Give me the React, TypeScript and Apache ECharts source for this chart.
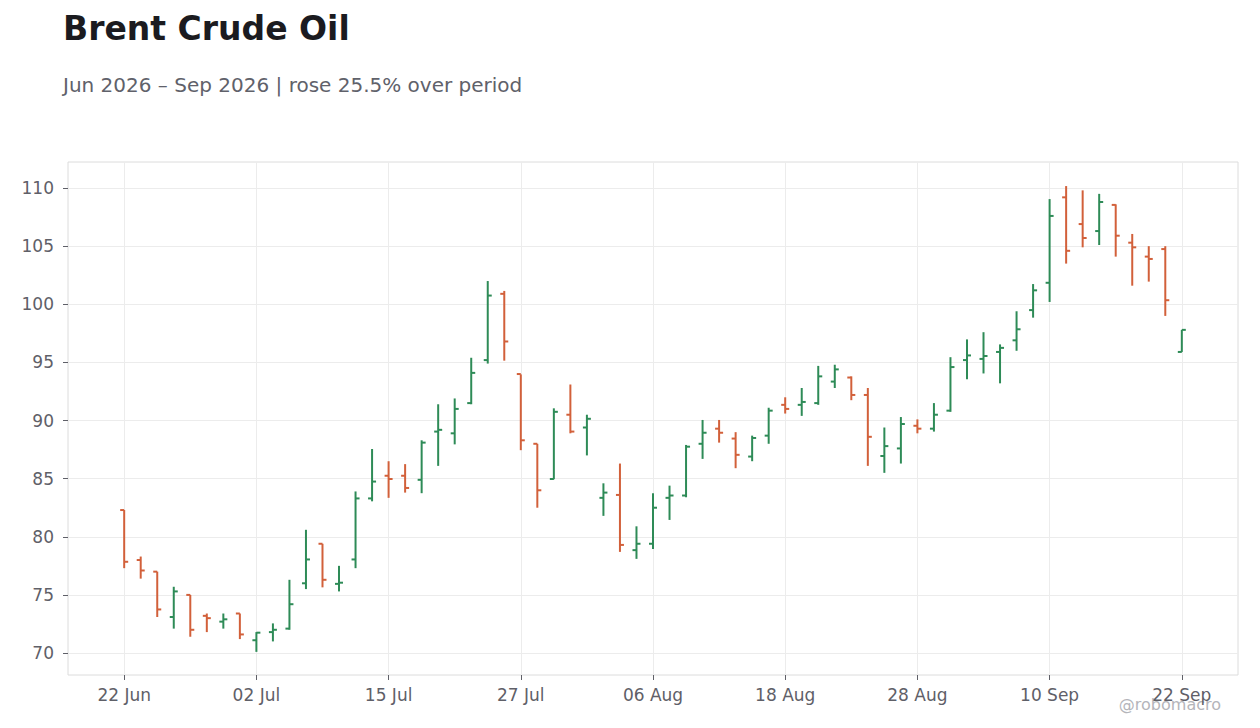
import { useEffect, useRef } from 'react';
import * as echarts from 'echarts';

// OHLC, one row per US trading day from 22 Jun 2026 to 22 Sep 2026
const opens = [
  82.3, 78.0, 77.0, 73.1, 75.0, 73.2, 72.7, 73.4, 71.1, 71.8,
  72.1, 76.0, 79.4, 75.95, 78.05, 83.3, 85.25, 85.25, 84.9, 89.05,
  88.9, 91.5, 95.2, 100.9, 94.0, 88.0, 84.97, 90.5, 89.4, 83.35,
  83.6, 78.85, 79.4, 83.35, 83.55, 88.0, 89.3, 88.45, 86.9, 88.7,
  91.35, 91.35, 91.5, 93.35, 93.7, 92.2, 86.95, 87.6, 89.55, 89.3,
  90.85, 95.2, 95.3, 95.9, 96.9, 99.5, 101.85, 109.2, 106.9, 106.3,
  108.55, 105.3, 104.1, 104.75, 95.9,
];
const highs = [
  82.3, 78.3, 77.0, 75.7, 75.0, 73.4, 73.4, 73.4, 71.8, 72.55,
  76.3, 80.6, 79.4, 77.5, 83.9, 87.55, 86.5, 86.25, 88.3, 91.4,
  91.9, 95.4, 102.0, 101.15, 93.97, 88.0, 91.05, 93.1, 90.5, 84.6,
  86.3, 80.9, 83.75, 84.4, 87.9, 90.05, 90.05, 89.0, 88.7, 91.1,
  92.0, 92.8, 94.7, 94.8, 93.8, 92.8, 89.4, 90.3, 90.1, 91.5,
  95.45, 96.98, 97.6, 96.55, 99.4, 101.74, 109.05, 110.17, 109.8, 109.5,
  108.6, 106.05, 105.0, 105.0, 97.8,
];
const lows = [
  77.3, 76.4, 73.1, 72.1, 71.4, 71.8, 72.1, 71.2, 70.1, 71.0,
  72.0, 75.5, 75.65, 75.3, 77.3, 83.05, 83.35, 83.8, 83.75, 86.1,
  87.95, 91.4, 94.9, 95.15, 87.45, 82.5, 84.95, 88.9, 87.0, 81.8,
  78.7, 78.1, 78.95, 81.45, 83.4, 86.7, 88.1, 85.9, 86.5, 88.0,
  90.6, 90.4, 91.35, 92.8, 91.75, 86.1, 85.5, 86.3, 88.9, 89.05,
  90.75, 93.55, 94.05, 93.2, 96.0, 98.85, 100.2, 103.5, 104.9, 105.1,
  104.1, 101.6, 101.95, 99.0, 95.9,
];
const closes = [
  77.85, 77.1, 73.75, 75.3, 72.0, 73.0, 72.9, 71.6, 71.75, 72.0,
  74.2, 78.05, 76.3, 76.05, 83.3, 84.75, 84.97, 84.2, 88.1, 89.2,
  91.0, 94.1, 100.75, 96.8, 88.3, 84.0, 90.75, 89.05, 90.15, 83.8,
  79.3, 79.4, 82.5, 83.55, 87.75, 88.95, 88.95, 87.05, 88.5, 90.85,
  91.0, 91.6, 93.8, 94.4, 92.2, 88.6, 87.8, 89.7, 89.3, 90.5,
  94.6, 95.6, 95.55, 96.25, 97.85, 101.2, 107.6, 104.6, 105.7, 108.8,
  105.9, 104.9, 103.9, 100.35, 97.8,
];

const tickIndex = [0, 8, 16, 24, 32, 40, 48, 56, 64];
const tickLabels = ['22 Jun', '02 Jul', '15 Jul', '27 Jul', '06 Aug', '18 Aug', '28 Aug', '10 Sep', '22 Sep'];
const yTicks = [70, 75, 80, 85, 90, 95, 100, 105, 110];

const UP = '#2e8b57';
const DOWN = '#d2603a';
const FONT = 'DejaVu Sans';
const LABEL = '#5f6068';

export default function App() {
  const chartRef = useRef<HTMLDivElement>(null);

  useEffect(() => {
    document.body.style.margin = '0';
    if (!chartRef.current) return;
    const chart = echarts.init(chartRef.current, null, { renderer: 'svg' });

    const rows = opens.map((o, i) => [i, o, highs[i], lows[i], closes[i]]);

    const option: any = {
      animation: false,
      backgroundColor: '#ffffff',
      textStyle: { fontFamily: FONT },
      title: [
        {
          text: 'Brent Crude Oil',
          left: 58,
          top: 7,
          textStyle: { fontFamily: FONT, fontSize: 33, fontWeight: 'bold', color: '#1b1b20' },
        },
        {
          text: 'Jun 2026 – Sep 2026 | rose 25.5% over period',
          left: 58,
          top: 70,
          textStyle: { fontFamily: FONT, fontSize: 20, fontWeight: 'normal', color: '#60616a' },
        },
      ],
      graphic: [
        {
          type: 'text',
          right: 39,
          top: 696,
          style: { text: '@robomacro', fill: '#b4b5ba', font: `16px "${FONT}"` },
        },
      ],
      grid: { left: 68, right: 22, top: 162, bottom: 53, show: true, borderColor: '#dcdcdc', borderWidth: 1 },
      xAxis: {
        type: 'value',
        min: -3.4,
        max: 67.4,
        axisLine: { show: false, onZero: false },
        axisTick: { show: true, customValues: tickIndex, length: 5, lineStyle: { color: LABEL } },
        axisLabel: {
          customValues: tickIndex,
          formatter: (v: number) => tickLabels[tickIndex.indexOf(Math.round(v))] ?? '',
          color: LABEL,
          fontSize: 17,
          fontFamily: FONT,
          margin: 11,
        },
        splitLine: { show: true, lineStyle: { color: '#ececec', width: 1 } },
      },
      yAxis: {
        type: 'value',
        min: 68.11,
        max: 112.24,
        axisLine: { show: false, onZero: false },
        axisTick: { show: true, customValues: yTicks, length: 5, lineStyle: { color: LABEL } },
        axisLabel: {
          customValues: yTicks,
          color: LABEL,
          fontSize: 17,
          fontFamily: FONT,
          margin: 14,
        },
        splitLine: { show: true, lineStyle: { color: '#ececec', width: 1 } },
      },
      series: [
        {
          type: 'custom',
          data: rows,
          encode: { x: 0, y: [1, 2, 3, 4] },
          renderItem: (params: any, api: any) => {
            const x = api.value(0);
            const o = api.value(1);
            const c = api.value(4);
            const pO = api.coord([x, o]);
            const pH = api.coord([x, api.value(2)]);
            const pL = api.coord([x, api.value(3)]);
            const pC = api.coord([x, c]);
            const color = c >= o ? UP : DOWN;
            const st = { stroke: color, lineWidth: 2 };
            const w = 4;
            return {
              type: 'group',
              children: [
                { type: 'line', shape: { x1: pH[0], y1: pH[1], x2: pL[0], y2: pL[1] }, style: st },
                { type: 'line', shape: { x1: pO[0] - w, y1: pO[1], x2: pO[0], y2: pO[1] }, style: st },
                { type: 'line', shape: { x1: pC[0], y1: pC[1], x2: pC[0] + w, y2: pC[1] }, style: st },
              ],
            };
          },
        },
      ],
    };

    chart.setOption(option);
    return () => chart.dispose();
  }, []);

  return <div ref={chartRef} style={{ width: 1260, height: 728 }} />;
}
